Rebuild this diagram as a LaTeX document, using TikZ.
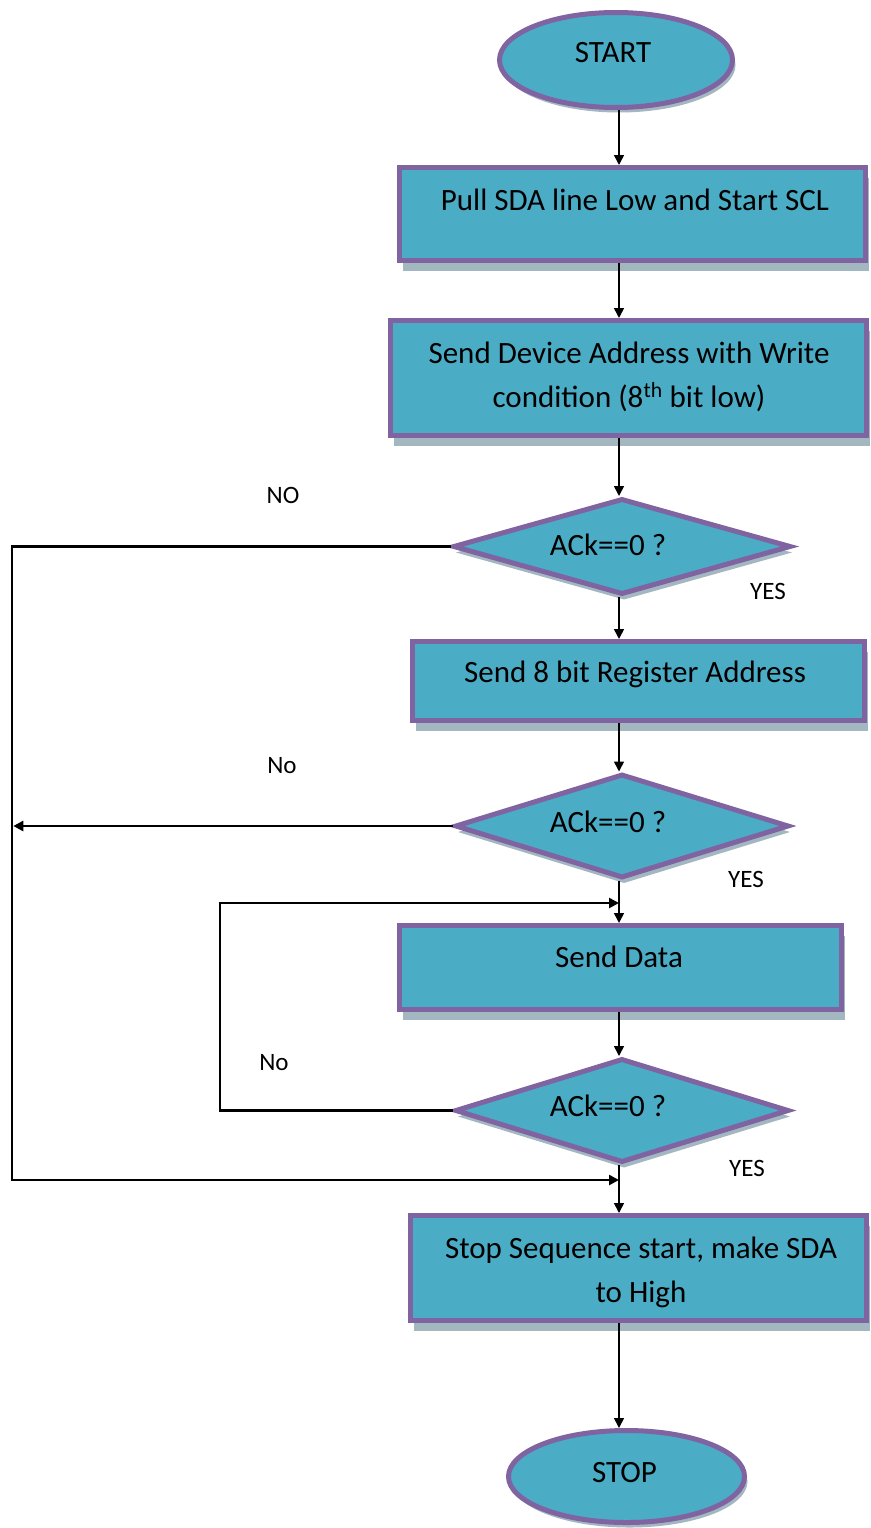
\documentclass[tikz,border=0pt]{standalone}
\usepackage{fontspec}
\setmainfont{Carlito}
\usetikzlibrary{shapes.geometric,arrows.meta,shadows}

\definecolor{boxfill}{HTML}{4BACC6}
\definecolor{boxline}{HTML}{8064A2}
\definecolor{shade}{HTML}{A3B7C1}

\begin{document}
\begin{tikzpicture}[x=1pt,y=1pt,
  shapebase/.style={fill=boxfill, draw=boxline, line width=5pt, inner sep=0pt},
  procbox/.style={shapebase, rectangle,
     drop shadow={shadow xshift=3pt, shadow yshift=-10pt, fill=shade, opacity=1}},
  termbox/.style={shapebase, ellipse,
     drop shadow={shadow xshift=3pt, shadow yshift=-5pt, fill=shade, opacity=1}},
  testbox/.style={shapebase, diamond,
     drop shadow={shadow xshift=2pt, shadow yshift=-6pt, fill=shade, opacity=1}},
  txt/.style={font=\fontsize{31}{44}\selectfont, anchor=base, inner sep=0pt, align=center},
  tag/.style={font=\fontsize{25}{30}\selectfont, anchor=base, inner sep=0pt},
  flow/.style={line width=1.6pt, -{Triangle[length=10pt,width=10pt]}},
  back/.style={line width=2.6pt, -{Triangle[length=10pt,width=10pt]}},
]
\useasboundingbox[fill=white] (0,0) rectangle (870,-1528);

% shapes
\node[termbox, minimum width=233, minimum height=95] (start) at (616,-60) {};
\node[procbox, minimum width=466, minimum height=93] (b1) at (632.5,-214) {};
\node[procbox, minimum width=476, minimum height=115] (b2) at (628.5,-378) {};
\node[testbox, minimum width=338, minimum height=96] (d1) at (622,-546.5) {};
\node[procbox, minimum width=452, minimum height=79] (b3) at (638.5,-681) {};
\node[testbox, minimum width=334, minimum height=104] (d2) at (622,-826) {};
\node[procbox, minimum width=442, minimum height=84] (b4) at (620.5,-967.5) {};
\node[testbox, minimum width=334, minimum height=104] (d3) at (622,-1110.5) {};
\node[procbox, minimum width=456, minimum height=105] (b5) at (638.5,-1268) {};
\node[termbox, minimum width=236, minimum height=92] (stop) at (626.5,-1476.5) {};

% texts (two-line texts are placed by the baseline of their last line)
\node[txt] (startT) at (613,-63) {START};
\node[txt] (b1T) at (635,-210) {Pull SDA line Low and Start SCL};
\node[txt] (b2T) at (629,-407) {Send Device Address with Write\\condition (8\textsuperscript{th} bit low)};
\node[txt] (d1T) at (608,-555) {ACk==0 ?};
\node[txt] (b3T) at (635,-682) {Send 8 bit Register Address};
\node[txt] (d2T) at (608,-832) {ACk==0 ?};
\node[txt] (b4T) at (619,-967) {Send Data};
\node[txt] (d3T) at (608,-1116) {ACk==0 ?};
\node[txt] (b5T) at (641,-1302) {Stop Sequence start, make SDA\\to High};
\node[txt] (stopT) at (624.5,-1482) {STOP};

% branch labels
\node[tag] (no1) at (283,-503) {NO};
\node[tag] (yes1) at (768,-599) {YES};
\node[tag] (no2) at (282,-773) {No};
\node[tag] (yes2) at (746,-887) {YES};
\node[tag] (no3) at (274,-1070) {No};
\node[tag] (yes3) at (747,-1176) {YES};

% routing points
\coordinate (spine) at (619,0);
\coordinate (farL) at (12,0);
\coordinate (nearL) at (220,0);
\coordinate (j1) at (619,-903);
\coordinate (j2) at (619,-1180);

% main flow
\draw[flow] (spine |- start.south) -- (spine |- b1.north);
\draw[flow] (spine |- b1.south) -- (spine |- b2.north);
\draw[flow] (spine |- b2.south) -- (spine |- d1.north);
\draw[flow] (spine |- d1.south) -- (spine |- b3.north);
\draw[flow] (spine |- b3.south) -- (spine |- d2.north);
\draw[flow] (spine |- d2.south) -- (spine |- b4.north);
\draw[flow] (spine |- b4.south) -- (spine |- d3.north);
\draw[flow] (spine |- d3.south) -- (spine |- b5.north);
\draw[flow] (spine |- b5.south) -- (spine |- stop.north);

% NO branches
\draw[back] (d1.west) -| (farL |- j2) -- (j2);
\draw[back] (d2.west) -- ([xshift=1.3pt]d2.west -| farL);
\draw[back] (d3.west) -| (nearL |- j1) -- (j1);
\end{tikzpicture}
\end{document}
